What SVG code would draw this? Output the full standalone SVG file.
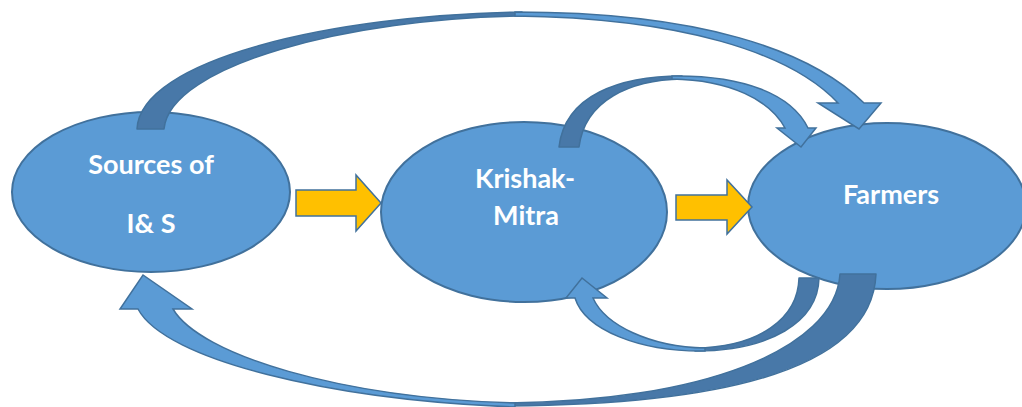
<svg xmlns="http://www.w3.org/2000/svg" width="1022" height="407" viewBox="0 0 1022 407">
<style>
.node{fill:#5B9BD5;stroke:#41719C;stroke-width:2}
.lbl{font-family:Lato,"Open Sans","Liberation Sans",sans-serif;font-weight:bold;font-size:27px;fill:#FFFFFF;text-anchor:middle}
.dark{fill:#4878A8;stroke:#41719C;stroke-width:1.5;stroke-linejoin:round}
.light{fill:#5B9BD5;stroke:#41719C;stroke-width:1.5;stroke-linejoin:miter}
.yel{fill:#FFC000;stroke:#41719C;stroke-width:1.5}
</style>
<rect width="1022" height="407" fill="#FFFFFF"/>
<g id="node-sources">
<ellipse class="node" cx="151" cy="192" rx="139" ry="80"/>
<text class="lbl" x="151" y="174">Sources of</text>
<text class="lbl" x="151" y="233">I&amp; S</text>
</g>
<g id="node-krishak">
<ellipse class="node" cx="524" cy="212" rx="143" ry="90"/>
<text class="lbl" x="525" y="188">Krishak-</text>
<text class="lbl" x="526" y="225">Mitra</text>
</g>
<g id="node-farmers">
<ellipse class="node" cx="887" cy="206" rx="139" ry="83"/>
<text class="lbl" x="891" y="204">Farmers</text>
</g>
<g id="connectors">
<!-- Sources -> Krishak -->
<path class="yel" d="M296,190 L356,190 L356,175 L381,203 L356,231 L356,216 L296,216 Z"/>
<!-- Krishak -> Farmers -->
<path class="yel" d="M676,195 L727,195 L727,180 L752,207 L727,234 L727,220 L676,220 Z"/>
<!-- Sources -> Farmers (top) -->
<path class="dark" d="M137,129 C140,60 330,15 522,12 L522,16 C350,18 170,65 164,129 Z"/>
<path class="light" d="M515,12 C700,12 810,50 864,103 L881,103 L859,129 L818,103 L838,103 C790,52 680,18 515,16 Z"/>
<!-- Krishak -> Farmers (upper loop) -->
<path class="dark" d="M559,147 C565,95 620,76 682,76 L682,79 C630,80 585,100 579,147 Z"/>
<path class="light" d="M672,76 C745,75 792,95 808,128 L816,128 L801,147 L777,128 L785,128 C770,100 730,80 672,79 Z"/>
<!-- Farmers -> Krishak (lower loop) -->
<path class="dark" d="M819,278 C818,322 770,351 695,351 L695,348 C760,347 798,318 799,278 Z"/>
<path class="light" d="M705,351 C640,352 585,330 575,298 L566,298 L582,278 L607,298 L593,298 C605,325 650,347 705,348 Z"/>
<!-- Farmers -> Sources (bottom) -->
<path class="dark" d="M876,274 C872,370 720,405 505,406 L505,403 C700,402 835,350 840,274 Z"/>
<path class="light" d="M515,407 C330,400 165,360 138,309 L120,309 L143,275 L192,309 L173,309 C200,355 340,398 515,403 Z"/>
</g>
</svg>
